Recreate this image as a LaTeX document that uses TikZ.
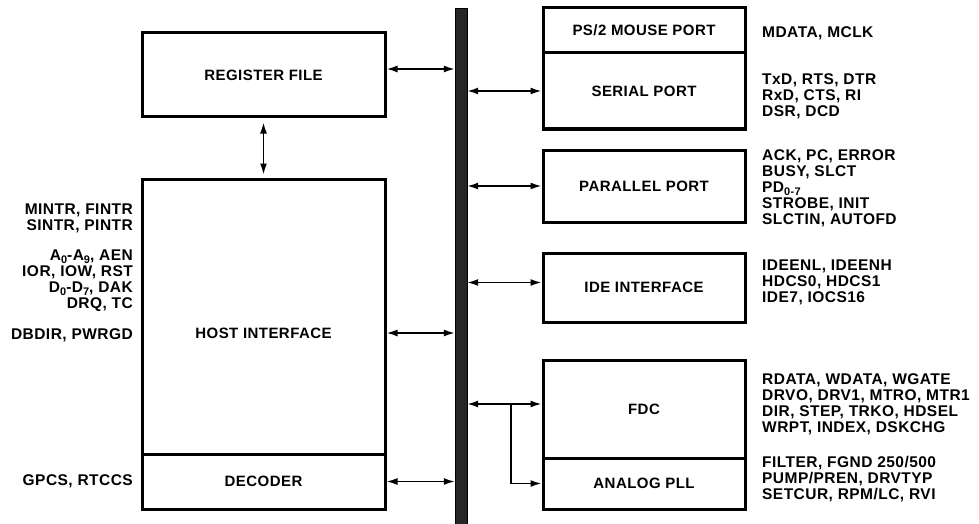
\documentclass[tikz,border=0pt]{standalone}
\usepackage{fontspec}
\setmainfont{Liberation Sans}[LetterSpace=3]
\newfontfamily\sigfont{Liberation Sans}[LetterSpace=3]
\usetikzlibrary{arrows.meta,positioning}
\tikzset{
  blk/.style={draw, line width=3pt, minimum width=243pt, inner sep=0pt},
  rblk/.style={blk, minimum width=202pt},
  sig/.style={inner sep=0pt, font=\sigfont\fontsize{15.5}{16}\selectfont\bfseries},
  bus/.style={fill=black!85, draw=black, minimum width=12pt, minimum height=516pt, inner sep=0pt},
  link/.style={line width=1.6pt, {Latex[length=11pt,width=7pt]}-{Latex[length=11pt,width=7pt]}},
  tap/.style={line width=1.6pt, -{Latex[length=11pt,width=7pt]}}
}
\newcommand\lo[1]{\raisebox{-0.3ex}{\fontsize{11}{11}\selectfont #1}}

\begin{document}
\begin{tikzpicture}[x=1pt, y=-1pt, font=\fontsize{15}{16}\selectfont\bfseries]
  \useasboundingbox (0,0) rectangle (979,524);
  \node[bus] (bus) at (461,266) {};
  % left side
  \node[blk, minimum height=84pt] (regfile) at (263.5,75) {REGISTER FILE};
  \node[blk, minimum height=275pt] (host) at (263.5,316.5) {};
  \node (hostlbl) at (263.5,333) {HOST INTERFACE};
  \node[blk, minimum height=55pt] (decoder) at (263.5,481.5) {DECODER};
  % right side
  \node[rblk, minimum height=45pt] (mouse) at (644,30.5) {PS/2 MOUSE PORT};
  \node[rblk, minimum height=76pt] (serial) at (644,91) {SERIAL PORT};
  \node[rblk, minimum height=72pt] (parallel) at (644,186) {PARALLEL PORT};
  \node[rblk, minimum height=69pt] (ide) at (644,287.5) {IDE INTERFACE};
  \node[rblk, minimum height=98pt] (fdc) at (644,409) {FDC};
  \node[rblk, minimum height=51pt] (pll) at (644,483.5) {ANALOG PLL};
  % links to the bus
  \draw[link] ([yshift=6pt]regfile.east) -- ([yshift=6pt]regfile.east -| bus.west);
  \draw[link, shorten <=4pt, shorten >=3pt] (regfile.south) -- (host.north);
  \draw[link] (host.east |- hostlbl) -- (bus.west |- hostlbl);
  \draw[link] (decoder.east) -- (decoder.east -| bus.west);
  \draw[link] (bus.east |- serial) -- (serial.west);
  \draw[link] (bus.east |- parallel) -- (parallel.west);
  \draw[link] ([yshift=5pt]ide.west -| bus.east) -- ([yshift=5pt]ide.west);
  \draw[link] ([yshift=5pt]fdc.west -| bus.east) -- ([yshift=5pt]fdc.west);
  \coordinate (split) at (511,404);
  \draw[tap] (split) |- (pll.west);
  % signal names
  \node[sig, anchor=east, align=right] (intr) at (133,218) {MINTR, FINTR\\SINTR, PINTR};
  \node[sig, anchor=east, align=right] (isa) at (133,281)
    {A\lo{0}-A\lo{9}, AEN\\IOR, IOW, RST\\D\lo{0}-D\lo{7}, DAK\\DRQ, TC};
  \node[sig, anchor=east] (pwr) at (133,335) {DBDIR, PWRGD};
  \node[sig, anchor=east] (cs) at (133,481) {GPCS, RTCCS};
  \node[sig, anchor=west] (msig) at (762,33) {MDATA, MCLK};
  \node[sig, anchor=west, align=left] (ssig) at (762,96) {TxD, RTS, DTR\\RxD, CTS, RI\\DSR, DCD};
  \node[sig, anchor=west, align=left] (psig) at (762,188.5)
    {ACK, PC, ERROR\\BUSY, SLCT\\PD\lo{0-7}\\STROBE, INIT\\SLCTIN, AUTOFD};
  \node[sig, anchor=west, align=left] (isig) at (762,282) {IDEENL, IDEENH\\HDCS0, HDCS1\\IDE7, IOCS16};
  \node[sig, anchor=west, align=left] (fsig) at (762,404)
    {RDATA, WDATA, WGATE\\DRVO, DRV1, MTRO, MTR1\\DIR, STEP, TRKO, HDSEL\\WRPT, INDEX, DSKCHG};
  \node[sig, anchor=west, align=left] (asig) at (762,479)
    {FILTER, FGND 250/500\\PUMP/PREN, DRVTYP\\SETCUR, RPM/LC, RVI};
\end{tikzpicture}
\end{document}
